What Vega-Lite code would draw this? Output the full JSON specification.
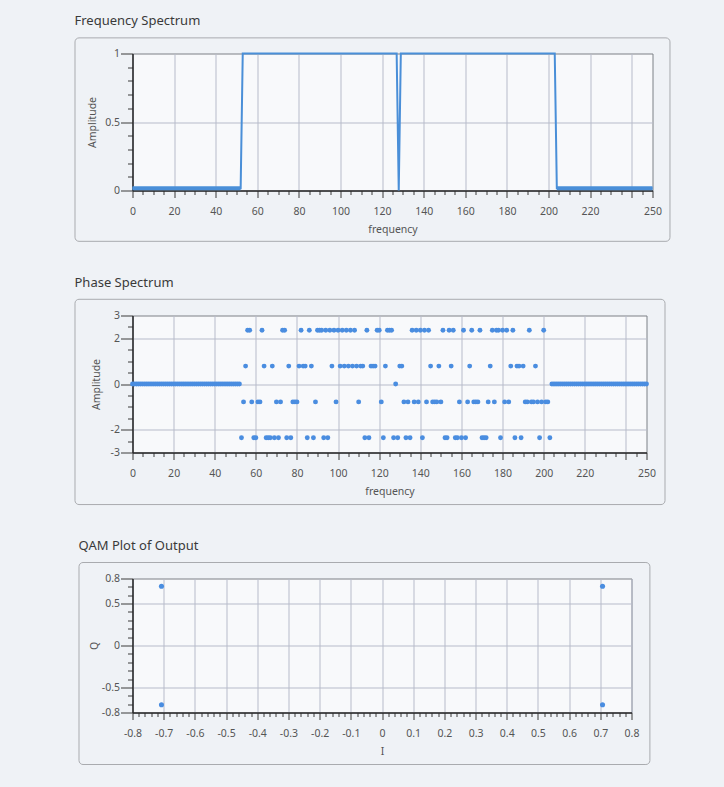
{
  "$schema": "https://vega.github.io/schema/vega-lite/v6.json",
  "background": "#eff2f6",
  "padding": {"left": 73.5, "top": 14.5, "right": 53, "bottom": 25},
  "spacing": 33,
  "align": "none",
  "bounds": "full",
  "config": {
    "font": "Noto Sans",
    "view": {"fill": "#f8f9fb", "stroke": "#7d8086", "strokeWidth": 1},
    "title": {"anchor": "start", "frame": "bounds", "fontSize": 13, "fontWeight": "normal", "color": "#3a3a3a", "offset": 9},
    "axis": {"labelFontSize": 10.5, "labelColor": "#555555", "titleFontSize": 10.5, "titleFontWeight": "normal", "titleColor": "#555555", "domainColor": "#2a2a2a", "domainWidth": 1.5, "tickColor": "#3a3a3a", "tickWidth": 1, "gridColor": "#b7bbca", "gridWidth": 1, "labelOverlap": false, "labelFlush": false, "tickCount": 400}
  },
  "vconcat": [
    {
      "title": "Frequency Spectrum",
      "width": 520,
      "height": 137,
      "data": {"values": [
        {"f": 0, "amp": 0.017, "seg": "lower"},
        {"f": 52, "amp": 0.017, "seg": "lower"},
        {"f": 53, "amp": 1, "seg": "pass"},
        {"f": 127, "amp": 1, "seg": "pass"},
        {"f": 128, "amp": 0, "seg": "notch"},
        {"f": 129, "amp": 1, "seg": "pass"},
        {"f": 203, "amp": 1, "seg": "pass"},
        {"f": 204, "amp": 0.017, "seg": "upper"},
        {"f": 250, "amp": 0.017, "seg": "upper"}
      ]},
      "layer": [
        {
          "data": {"values": [{}]},
          "mark": {"type": "rect", "fillOpacity": 0, "stroke": "#a9abaf", "strokeWidth": 1, "cornerRadius": 4, "clip": false},
          "encoding": {
            "x": {"datum": -27.64, "type": "quantitative", "title": "frequency", "scale": {"domain": [0, 250], "nice": false, "zero": false}},
            "x2": {"datum": 258.4},
            "y": {"datum": 1.114, "type": "quantitative", "title": "Amplitude", "scale": {"domain": [0, 1], "nice": false, "zero": false}},
            "y2": {"datum": -0.371}
          }
        },
        {
          "mark": {"type": "line", "color": "#4a8fd8", "strokeWidth": 2},
          "encoding": {
            "x": {"field": "f", "type": "quantitative", "title": "frequency",
              "scale": {"domain": [0, 250], "nice": false, "zero": false},
              "axis": {
                "values": [0,5,10,15,20,25,30,35,40,45,50,55,60,65,70,75,80,85,90,95,100,105,110,115,120,125,130,135,140,145,150,155,160,165,170,175,180,185,190,195,200,205,210,215,220,225,230,235,240,245,250],
                "tickCount": 400,
                "labelExpr": "((datum.value % 20 == 0) && datum.value != 240) || datum.value == 250 ? format(datum.value, '~f') : ''",
                "grid": true,
                "gridOpacity": {"condition": {"test": "datum.value % 20 == 0", "value": 1}, "value": 0},
                "tickSize": {"condition": {"test": "datum.value % 20 == 0 || datum.value == 250", "value": 7}, "value": 4},
                "labelPadding": 9,
                "titlePadding": 7
              }
            },
            "y": {"field": "amp", "type": "quantitative", "title": "Amplitude",
              "scale": {"domain": [0, 1], "nice": false, "zero": false},
              "axis": {
                "values": [0,0.1,0.2,0.3,0.4,0.5,0.6,0.7,0.8,0.9,1],
                "tickCount": 400,
                "labelExpr": "datum.value == 0 || datum.value == 0.5 || datum.value == 1 ? format(datum.value, '~f') : ''",
                "grid": true,
                "gridOpacity": {"condition": {"test": "datum.value == 0.5", "value": 1}, "value": 0},
                "tickSize": {"condition": {"test": "datum.value == 0 || datum.value == 0.5 || datum.value == 1", "value": 12}, "value": 5},
                "labelPadding": 1,
                "titlePadding": 7
              }
            },
            "order": {"field": "f", "type": "quantitative"}
          }
        },
        {
          "transform": [{"filter": "datum.seg == 'lower' || datum.seg == 'upper'"}],
          "mark": {"type": "line", "color": "#4a8fd8", "strokeWidth": 4},
          "encoding": {
            "x": {"field": "f", "type": "quantitative", "title": "frequency", "scale": {"domain": [0, 250], "nice": false, "zero": false}},
            "y": {"field": "amp", "type": "quantitative", "title": "Amplitude", "scale": {"domain": [0, 1], "nice": false, "zero": false}},
            "detail": {"field": "seg", "type": "nominal"}
          }
        }
      ]
    },
    {
      "title": "Phase Spectrum",
      "width": 514,
      "height": 137,
      "data": {"values": [
        {"f":0,"p":0},{"f":1,"p":0},{"f":2,"p":0},{"f":3,"p":0},{"f":4,"p":0},{"f":5,"p":0},{"f":6,"p":0},{"f":7,"p":0},{"f":8,"p":0},{"f":9,"p":0},
        {"f":10,"p":0},{"f":11,"p":0},{"f":12,"p":0},{"f":13,"p":0},{"f":14,"p":0},{"f":15,"p":0},{"f":16,"p":0},{"f":17,"p":0},{"f":18,"p":0},{"f":19,"p":0},
        {"f":20,"p":0},{"f":21,"p":0},{"f":22,"p":0},{"f":23,"p":0},{"f":24,"p":0},{"f":25,"p":0},{"f":26,"p":0},{"f":27,"p":0},{"f":28,"p":0},{"f":29,"p":0},
        {"f":30,"p":0},{"f":31,"p":0},{"f":32,"p":0},{"f":33,"p":0},{"f":34,"p":0},{"f":35,"p":0},{"f":36,"p":0},{"f":37,"p":0},{"f":38,"p":0},{"f":39,"p":0},
        {"f":40,"p":0},{"f":41,"p":0},{"f":42,"p":0},{"f":43,"p":0},{"f":44,"p":0},{"f":45,"p":0},{"f":46,"p":0},{"f":47,"p":0},{"f":48,"p":0},{"f":49,"p":0},
        {"f":50,"p":0},{"f":51,"p":0},{"f":52,"p":0},
        {"f":53,"p":-2.356},{"f":54,"p":-0.785},{"f":55,"p":0.785},{"f":56,"p":2.356},{"f":57,"p":2.356},{"f":58,"p":-0.785},{"f":59,"p":-2.356},{"f":60,"p":-2.356},
        {"f":61,"p":-0.785},{"f":62,"p":-0.785},{"f":63,"p":2.356},{"f":64,"p":0.785},{"f":65,"p":-2.356},{"f":66,"p":-2.356},{"f":67,"p":-2.356},{"f":68,"p":0.785},
        {"f":69,"p":-2.356},{"f":70,"p":-0.785},{"f":71,"p":-2.356},{"f":72,"p":-0.785},{"f":73,"p":2.356},{"f":74,"p":2.356},{"f":75,"p":-2.356},{"f":76,"p":0.785},
        {"f":77,"p":-2.356},{"f":78,"p":-0.785},{"f":79,"p":-0.785},{"f":80,"p":-0.785},{"f":81,"p":0.785},{"f":82,"p":2.356},{"f":83,"p":0.785},{"f":84,"p":0.785},
        {"f":85,"p":-2.356},{"f":86,"p":2.356},{"f":87,"p":0.785},{"f":88,"p":-2.356},{"f":89,"p":-0.785},{"f":90,"p":2.356},{"f":91,"p":2.356},{"f":92,"p":2.356},
        {"f":93,"p":-2.356},{"f":94,"p":2.356},{"f":95,"p":-2.356},{"f":96,"p":2.356},{"f":97,"p":0.785},{"f":98,"p":2.356},{"f":99,"p":-0.785},{"f":100,"p":2.356},
        {"f":101,"p":0.785},{"f":102,"p":2.356},{"f":103,"p":0.785},{"f":104,"p":2.356},{"f":105,"p":0.785},{"f":106,"p":2.356},{"f":107,"p":0.785},{"f":108,"p":2.356},
        {"f":109,"p":0.785},{"f":110,"p":-0.785},{"f":111,"p":0.785},{"f":112,"p":0.785},{"f":113,"p":-2.356},{"f":114,"p":2.356},{"f":115,"p":-2.356},{"f":116,"p":0.785},
        {"f":117,"p":0.785},{"f":118,"p":0.785},{"f":119,"p":2.356},{"f":120,"p":2.356},{"f":121,"p":-0.785},{"f":122,"p":-2.356},{"f":123,"p":0.785},{"f":124,"p":2.356},
        {"f":125,"p":2.356},{"f":126,"p":2.356},{"f":127,"p":-2.356},{"f":128,"p":0},{"f":129,"p":-2.356},{"f":130,"p":0.785},{"f":131,"p":0.785},{"f":132,"p":-0.785},
        {"f":133,"p":-2.356},{"f":134,"p":-0.785},{"f":135,"p":-2.356},{"f":136,"p":2.356},{"f":137,"p":-0.785},{"f":138,"p":2.356},{"f":139,"p":-0.785},{"f":140,"p":2.356},
        {"f":141,"p":-2.356},{"f":142,"p":2.356},{"f":143,"p":-0.785},{"f":144,"p":2.356},{"f":145,"p":0.785},{"f":146,"p":-0.785},{"f":147,"p":-0.785},{"f":148,"p":-0.785},
        {"f":149,"p":0.785},{"f":150,"p":-0.785},{"f":151,"p":2.356},{"f":152,"p":-2.356},{"f":153,"p":-2.356},{"f":154,"p":2.356},{"f":155,"p":0.785},{"f":156,"p":2.356},
        {"f":157,"p":-2.356},{"f":158,"p":-2.356},{"f":159,"p":-0.785},{"f":160,"p":-2.356},{"f":161,"p":2.356},{"f":162,"p":-2.356},{"f":163,"p":-0.785},{"f":164,"p":0.785},
        {"f":165,"p":2.356},{"f":166,"p":-0.785},{"f":167,"p":-0.785},{"f":168,"p":-0.785},{"f":169,"p":2.356},{"f":170,"p":-2.356},{"f":171,"p":-2.356},{"f":172,"p":-2.356},
        {"f":173,"p":-0.785},{"f":174,"p":0.785},{"f":175,"p":2.356},{"f":176,"p":-0.785},{"f":177,"p":2.356},{"f":178,"p":2.356},{"f":179,"p":-2.356},{"f":180,"p":2.356},
        {"f":181,"p":-0.785},{"f":182,"p":2.356},{"f":183,"p":-0.785},{"f":184,"p":0.785},{"f":185,"p":2.356},{"f":186,"p":-2.356},{"f":187,"p":0.785},{"f":188,"p":0.785},
        {"f":189,"p":-2.356},{"f":190,"p":0.785},{"f":191,"p":-0.785},{"f":192,"p":-0.785},{"f":193,"p":2.356},{"f":194,"p":-0.785},{"f":195,"p":-0.785},{"f":196,"p":0.785},
        {"f":197,"p":-0.785},{"f":198,"p":-2.356},{"f":199,"p":-0.785},{"f":200,"p":2.356},{"f":201,"p":-0.785},{"f":202,"p":-0.785},{"f":203,"p":-2.356},
        {"f":204,"p":0},{"f":205,"p":0},{"f":206,"p":0},{"f":207,"p":0},{"f":208,"p":0},{"f":209,"p":0},{"f":210,"p":0},{"f":211,"p":0},{"f":212,"p":0},{"f":213,"p":0},
        {"f":214,"p":0},{"f":215,"p":0},{"f":216,"p":0},{"f":217,"p":0},{"f":218,"p":0},{"f":219,"p":0},{"f":220,"p":0},{"f":221,"p":0},{"f":222,"p":0},{"f":223,"p":0},
        {"f":224,"p":0},{"f":225,"p":0},{"f":226,"p":0},{"f":227,"p":0},{"f":228,"p":0},{"f":229,"p":0},{"f":230,"p":0},{"f":231,"p":0},{"f":232,"p":0},{"f":233,"p":0},
        {"f":234,"p":0},{"f":235,"p":0},{"f":236,"p":0},{"f":237,"p":0},{"f":238,"p":0},{"f":239,"p":0},{"f":240,"p":0},{"f":241,"p":0},{"f":242,"p":0},{"f":243,"p":0},
        {"f":244,"p":0},{"f":245,"p":0},{"f":246,"p":0},{"f":247,"p":0},{"f":248,"p":0},{"f":249,"p":0},{"f":250,"p":0}
      ]},
      "layer": [
        {
          "data": {"values": [{}]},
          "mark": {"type": "rect", "fillOpacity": 0, "stroke": "#a9abaf", "strokeWidth": 1, "cornerRadius": 4, "clip": false},
          "encoding": {
            "x": {"datum": -27.97, "type": "quantitative", "title": "frequency", "scale": {"domain": [0, 250], "nice": false, "zero": false}},
            "x2": {"datum": 259.0},
            "y": {"datum": 3.71, "type": "quantitative", "title": "Amplitude", "scale": {"domain": [-3, 3], "nice": false, "zero": false}},
            "y2": {"datum": -5.28}
          }
        },
        {
          "mark": {"type": "circle", "color": "#4a8de0", "size": 24, "opacity": 1},
          "encoding": {
            "x": {"field": "f", "type": "quantitative", "title": "frequency",
              "scale": {"domain": [0, 250], "nice": false, "zero": false},
              "axis": {
                "values": [0,5,10,15,20,25,30,35,40,45,50,55,60,65,70,75,80,85,90,95,100,105,110,115,120,125,130,135,140,145,150,155,160,165,170,175,180,185,190,195,200,205,210,215,220,225,230,235,240,245,250],
                "tickCount": 400,
                "labelExpr": "((datum.value % 20 == 0) && datum.value != 240) || datum.value == 250 ? format(datum.value, '~f') : ''",
                "grid": true,
                "gridOpacity": {"condition": {"test": "datum.value % 20 == 0", "value": 1}, "value": 0},
                "tickSize": {"condition": {"test": "datum.value % 20 == 0 || datum.value == 250", "value": 7}, "value": 4},
                "labelPadding": 9,
                "titlePadding": 7
              }
            },
            "y": {"field": "p", "type": "quantitative", "title": "Amplitude",
              "scale": {"domain": [-3, 3], "nice": false, "zero": false},
              "axis": {
                "values": [-3,-2.5,-2,-1.5,-1,-0.5,0,0.5,1,1.5,2,2.5,3],
                "tickCount": 400,
                "labelExpr": "datum.value == 0 || abs(datum.value) == 2 || abs(datum.value) == 3 ? replace(format(datum.value, '~f'), '\u2212', '-') : ''",
                "grid": true,
                "gridOpacity": {"condition": {"test": "datum.value == 0 || abs(datum.value) == 2", "value": 1}, "value": 0},
                "tickSize": {"condition": {"test": "datum.value == 0 || abs(datum.value) == 2 || abs(datum.value) == 3", "value": 12}, "value": 5},
                "labelPadding": 1,
                "titlePadding": 9
              }
            }
          }
        }
      ]
    },
    {
      "title": "QAM Plot of Output",
      "width": 499,
      "height": 134,
      "data": {"values": [
        {"i": -0.7071, "q": 0.7071},
        {"i": 0.7071, "q": 0.7071},
        {"i": -0.7071, "q": -0.7071},
        {"i": 0.7071, "q": -0.7071}
      ]},
      "layer": [
        {
          "data": {"values": [{}]},
          "mark": {"type": "rect", "fillOpacity": 0, "stroke": "#a9abaf", "strokeWidth": 1, "cornerRadius": 4, "clip": false},
          "encoding": {
            "x": {"datum": -0.9715, "type": "quantitative", "title": "I", "scale": {"domain": [-0.8, 0.8], "nice": false, "zero": false}},
            "x2": {"datum": 0.859},
            "y": {"datum": 0.991, "type": "quantitative", "title": "Q", "scale": {"domain": [-0.8, 0.8], "nice": false, "zero": false}},
            "y2": {"datum": -1.421}
          }
        },
        {
          "mark": {"type": "circle", "color": "#4a8de0", "size": 26, "opacity": 1},
          "encoding": {
            "x": {"field": "i", "type": "quantitative", "title": "I",
              "scale": {"domain": [-0.8, 0.8], "nice": false, "zero": false},
              "axis": {
                "values": [-0.8,-0.78,-0.76,-0.74,-0.72,-0.7,-0.68,-0.66,-0.64,-0.62,-0.6,-0.58,-0.56,-0.54,-0.52,-0.5,-0.48,-0.46,-0.44,-0.42,-0.4,-0.38,-0.36,-0.34,-0.32,-0.3,-0.28,-0.26,-0.24,-0.22,-0.2,-0.18,-0.16,-0.14,-0.12,-0.1,-0.08,-0.06,-0.04,-0.02,0,0.02,0.04,0.06,0.08,0.1,0.12,0.14,0.16,0.18,0.2,0.22,0.24,0.26,0.28,0.3,0.32,0.34,0.36,0.38,0.4,0.42,0.44,0.46,0.48,0.5,0.52,0.54,0.56,0.58,0.6,0.62,0.64,0.66,0.68,0.7,0.72,0.74,0.76,0.78,0.8],
                "tickCount": 400,
                "labelExpr": "abs(datum.value * 10 - round(datum.value * 10)) < 0.001 ? replace(format(datum.value, '~f'), '\u2212', '-') : ''",
                "grid": true,
                "gridOpacity": {"condition": {"test": "abs(datum.value * 10 - round(datum.value * 10)) < 0.001", "value": 1}, "value": 0},
                "tickSize": {"condition": {"test": "abs(datum.value * 10 - round(datum.value * 10)) < 0.001", "value": 7}, "value": 4},
                "labelPadding": 9,
                "titlePadding": 7
              }
            },
            "y": {"field": "q", "type": "quantitative", "title": "Q",
              "scale": {"domain": [-0.8, 0.8], "nice": false, "zero": false},
              "axis": {
                "values": [-0.8,-0.7,-0.6,-0.5,-0.4,-0.3,-0.2,-0.1,0,0.1,0.2,0.3,0.4,0.5,0.6,0.7,0.8],
                "tickCount": 400,
                "labelExpr": "datum.value == 0 || abs(datum.value) == 0.5 || abs(datum.value) == 0.8 ? replace(format(datum.value, '~f'), '\u2212', '-') : ''",
                "grid": true,
                "gridOpacity": {"condition": {"test": "datum.value == 0 || abs(datum.value) == 0.5", "value": 1}, "value": 0},
                "tickSize": {"condition": {"test": "datum.value == 0 || abs(datum.value) == 0.5 || abs(datum.value) == 0.8", "value": 12}, "value": 5},
                "labelPadding": 1,
                "titlePadding": 2
              }
            }
          }
        }
      ]
    }
  ]
}
